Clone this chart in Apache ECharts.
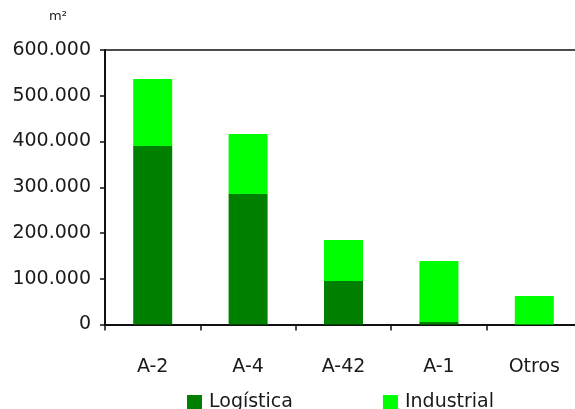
<!DOCTYPE html>
<html>
<head>
<meta charset="utf-8">
<script src="https://cdn.jsdelivr.net/npm/echarts@6/dist/echarts.min.js"></script>
<style>
  html, body { margin: 0; padding: 0; background: #fff; overflow: hidden; }
  #wrap { width: 575px; height: 409px; overflow: hidden; }
  #chart { width: 582px; height: 409px; }
</style>
</head>
<body>
<div id="wrap"><div id="chart"></div></div>
<script>
// Superficie por corredor (m²)
const categories = ['A-2', 'A-4', 'A-42', 'A-1', 'Otros'];
const logistica = [390000, 285000, 95000, 5500, 0];
const industrial = [146500, 131500, 89500, 133500, 62500];
const yTicks = { min: 0, max: 600000, interval: 100000 };
const seriesNames = ['Logística', 'Industrial'];

const FONT = 'DejaVu Sans';
const TEXT = '#1a1a1a';

function thousands(v) {
  return String(v).replace(/\B(?=(\d{3})+(?!\d))/g, '.');
}

const chart = echarts.init(document.getElementById('chart'), null, { renderer: 'canvas' });
chart.setOption({
  animation: false,
  textStyle: { fontFamily: FONT },
  grid: { left: 105, right: 0, top: 50, bottom: 84.5, containLabel: false },
  legend: {
    data: seriesNames,
    top: 388,
    left: 182,
    itemWidth: 15,
    itemHeight: 15,
    itemGap: 90,
    icon: 'rect',
    textStyle: { fontFamily: FONT, fontSize: 19, color: TEXT, padding: [0, 0, 0, 2] }
  },
  graphic: [{
    type: 'text',
    left: 49,
    top: 10,
    style: { text: 'm²', font: '13px ' + FONT, fill: TEXT }
  }],
  xAxis: [{
    type: 'category',
    data: categories,
    axisLine: { show: true, lineStyle: { color: '#111', width: 2 } },
    axisTick: { show: true, length: 6, alignWithLabel: false, lineStyle: { color: '#111', width: 1.5 } },
    axisLabel: { color: TEXT, fontSize: 19, margin: 33, fontFamily: FONT },
    splitLine: { show: false }
  }, {
    type: 'category',
    data: categories,
    position: 'top',
    axisLine: { show: true, lineStyle: { color: '#111', width: 1.5 } },
    axisTick: { show: false },
    axisLabel: { show: false },
    splitLine: { show: false }
  }],
  yAxis: {
    type: 'value',
    min: yTicks.min,
    max: yTicks.max,
    interval: yTicks.interval,
    axisLine: { show: true, lineStyle: { color: '#111', width: 2 } },
    axisTick: { show: true, inside: false, length: 5, lineStyle: { color: '#111', width: 1.5 } },
    axisLabel: { color: TEXT, fontSize: 19, margin: 14, fontFamily: FONT, formatter: thousands },
    splitLine: { show: false }
  },
  series: [{
    name: seriesNames[0],
    type: 'bar',
    stack: 'total',
    data: logistica,
    barWidth: 39,
    itemStyle: { color: '#008000' }
  }, {
    name: seriesNames[1],
    type: 'bar',
    stack: 'total',
    data: industrial,
    barWidth: 39,
    itemStyle: { color: '#00ff00' }
  }]
});
</script>
</body>
</html>
